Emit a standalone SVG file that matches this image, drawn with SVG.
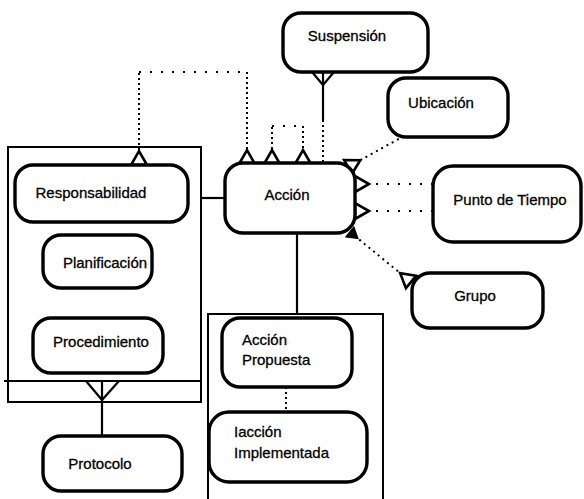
<svg xmlns="http://www.w3.org/2000/svg" width="584" height="499" viewBox="0 0 584 499">
  <style>
    .node { fill: #fff; stroke: #000; stroke-width: 3.4; }
    .frame { fill: none; stroke: #000; stroke-width: 2; }
    .solid { fill: none; stroke: #000; stroke-width: 2.2; }
    .dot-v { fill: none; stroke: #000; stroke-width: 2; stroke-dasharray: 2 3; }
    .dot-h { fill: none; stroke: #000; stroke-width: 2; stroke-dasharray: 2 9; }
    .dot-d { fill: none; stroke: #000; stroke-width: 2; stroke-dasharray: 2 4; }
    .lbl { font-family: "Liberation Sans", Arial, sans-serif; font-size: 15px; fill: #000; stroke: #000; stroke-width: 0.3; }
    .c { text-anchor: middle; }
  </style>
  <defs>
    <!-- open triangle whose base sits on the node edge and apex points along the line -->
    <marker id="tri" markerUnits="userSpaceOnUse" markerWidth="24" markerHeight="24" refX="18" refY="12" orient="auto-start-reverse" overflow="visible">
      <path d="M18,4 L4,12 L18,20 Z" fill="#fff" stroke="#000" stroke-width="2.6" stroke-linejoin="miter"/>
    </marker>
    <marker id="tri-small" markerUnits="userSpaceOnUse" markerWidth="20" markerHeight="20" refX="12" refY="10" orient="auto-start-reverse" overflow="visible">
      <path d="M12,4 L2,10 L12,16 Z" fill="#000" stroke="#000" stroke-width="1.5"/>
    </marker>
  </defs>

  <!-- container frames -->
  <g id="frame-responsabilidad">
    <rect class="frame" x="8" y="147" width="193" height="255"/>
    <path class="solid" d="M4,381 H201"/>
  </g>
  <g id="frame-accion-propuesta">
    <path class="frame" d="M208,502 V314 H383 V502"/>
  </g>

  <!-- connectors -->
  <g id="connectors">
    <path class="dot-v" d="M139,165 V72" marker-start="url(#tri)"/>
    <path class="dot-h" d="M139,72 H247"/>
    <path class="dot-v" d="M247,72 V164" marker-end="url(#tri)"/>
    <path class="dot-v" d="M272,164 V126" marker-start="url(#tri)"/>
    <path class="dot-h" d="M272,126 H303" stroke-dasharray="2 5"/>
    <path class="dot-v" d="M303,126 V164" marker-end="url(#tri)"/>
    <path class="solid" d="M323,72 V120"/>
    <path class="solid" d="M312,72 L323,85 L334,72" stroke-width="2.6"/>
    <path class="dot-v" d="M323,120 V163"/>
    <path class="dot-d" d="M404,136 L348,167" marker-end="url(#tri)"/>
    <path class="dot-h" d="M433,184 H355" marker-end="url(#tri)"/>
    <path class="dot-h" d="M433,211 H355" marker-end="url(#tri)"/>
    <path class="dot-d" d="M350,232 L411,282" marker-start="url(#tri-small)" marker-end="url(#tri)"/>
    <path class="solid" d="M201,198 H225"/>
    <path class="solid" d="M297,233 V314"/>
    <path class="dot-v" d="M286,387 V412"/>
    <path class="solid" d="M86,381 L102,400 L119,381"/>
    <path class="solid" d="M102,381 V436"/>
  </g>

  <!-- nodes -->
  <g id="suspension">
    <rect class="node" x="283" y="13" width="145" height="59" rx="18"/>
    <text class="lbl c" x="347" y="41">Suspensión</text>
  </g>
  <g id="ubicacion">
    <rect class="node" x="388" y="78" width="120" height="59" rx="18"/>
    <text class="lbl c" x="441" y="108">Ubicación</text>
  </g>
  <g id="punto-de-tiempo">
    <rect class="node" x="433" y="166" width="148" height="76" rx="20"/>
    <text class="lbl c" x="510" y="205">Punto de Tiempo</text>
  </g>
  <g id="grupo">
    <rect class="node" x="412" y="273" width="131" height="55" rx="18"/>
    <text class="lbl c" x="475" y="301">Grupo</text>
  </g>
  <g id="accion">
    <rect class="node" x="225" y="163" width="130" height="70" rx="18"/>
    <text class="lbl c" x="287" y="200">Acción</text>
  </g>
  <g id="responsabilidad">
    <rect class="node" x="15" y="165" width="173" height="57" rx="18"/>
    <text class="lbl c" x="91" y="198">Responsabilidad</text>
  </g>
  <g id="planificacion">
    <rect class="node" x="43" y="235" width="109" height="53" rx="18"/>
    <text class="lbl c" x="105" y="268">Planificación</text>
  </g>
  <g id="procedimiento">
    <rect class="node" x="33" y="318" width="130" height="55" rx="18"/>
    <text class="lbl c" x="101" y="347">Procedimiento</text>
  </g>
  <g id="protocolo">
    <rect class="node" x="43" y="436" width="139" height="55" rx="18"/>
    <text class="lbl c" x="100" y="469">Protocolo</text>
  </g>
  <g id="accion-propuesta">
    <rect class="node" x="222" y="318" width="130" height="69" rx="18"/>
    <text class="lbl" x="242" y="345">Acción</text>
    <text class="lbl" x="242" y="365">Propuesta</text>
  </g>
  <g id="accion-implementada">
    <rect class="node" x="209" y="412" width="158" height="70" rx="20"/>
    <text class="lbl" x="234" y="437">Iacción</text>
    <text class="lbl" x="234" y="458">Implementada</text>
  </g>
</svg>
